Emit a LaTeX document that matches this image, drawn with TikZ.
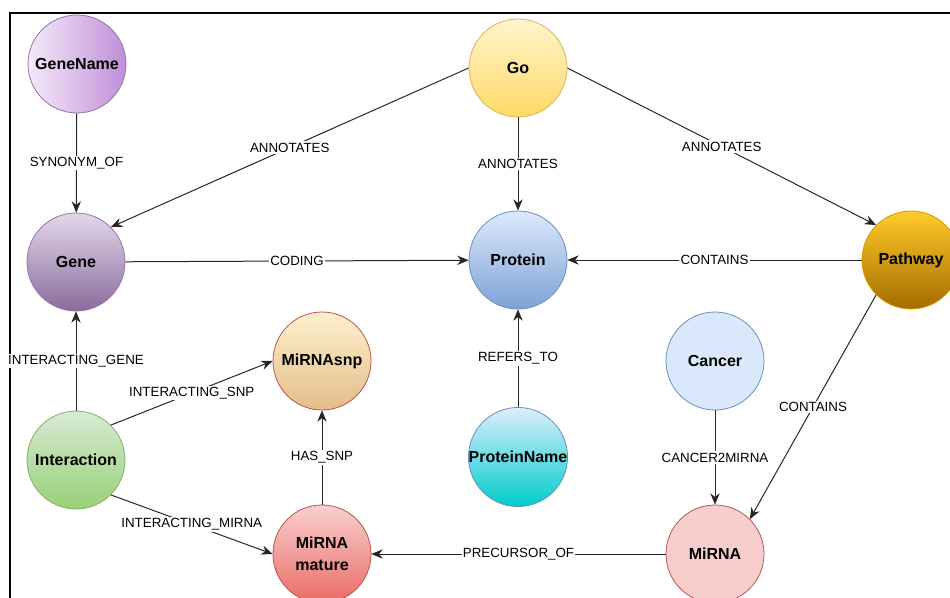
\documentclass[tikz,border=0pt]{standalone}
\usepackage{fontspec}
\setmainfont{Liberation Sans}
\usetikzlibrary{arrows.meta}

\definecolor{lineP}{HTML}{9673A6}
\definecolor{lineY}{HTML}{D6B656}
\definecolor{lineB}{HTML}{6C8EBF}
\definecolor{lineO}{HTML}{D79B00}
\definecolor{lineR}{HTML}{B85450}
\definecolor{lineG}{HTML}{82B366}
\definecolor{genenameL}{HTML}{F4EAF8}
\definecolor{genenameR}{HTML}{C08ED8}
\definecolor{goT}{HTML}{FFF4CC}
\definecolor{goB}{HTML}{FFD966}
\definecolor{geneT}{HTML}{E3D7EA}
\definecolor{geneB}{HTML}{8A6C9B}
\definecolor{proteinT}{HTML}{DCE9FC}
\definecolor{proteinB}{HTML}{7EA2D6}
\definecolor{pathwayT}{HTML}{FFCC2A}
\definecolor{pathwayB}{HTML}{A66B00}
\definecolor{snpT}{HTML}{FDF1CC}
\definecolor{snpB}{HTML}{E5BC8A}
\definecolor{cancerF}{HTML}{DAE8FC}
\definecolor{interT}{HTML}{D7EAD4}
\definecolor{interB}{HTML}{97D077}
\definecolor{pnameT}{HTML}{DCEEFC}
\definecolor{pnameB}{HTML}{00CCCC}
\definecolor{matureT}{HTML}{F8D0CE}
\definecolor{matureB}{HTML}{EA6B66}
\definecolor{mirnaF}{HTML}{F8CECC}

\begin{document}
\begin{tikzpicture}[
  x=0.75pt, y=-0.75pt,
  entity/.style={circle, draw, line width=0.6pt, minimum size=73.5pt, inner sep=0pt,
    align=center, font=\bfseries\fontsize{12}{16.5}\selectfont},
  rel/.style={-{Stealth[length=8.5pt,width=7pt]}, line width=0.75pt, draw=black!85},
  lbl/.style={fill=white, inner sep=1pt, font=\fontsize{10}{12}\selectfont}
]
\useasboundingbox (0,0) rectangle (950,597);
\draw[line width=1.5pt] (10,13) rectangle (975,625);

% entities
\node[entity, draw=lineP, left color=genenameL, right color=genenameR] (genename) at (77,64) {GeneName};
\node[entity, draw=lineY, top color=goT, bottom color=goB] (go) at (518,68) {Go};
\node[entity, draw=lineP, top color=geneT, bottom color=geneB] (gene) at (76,262) {Gene};
\node[entity, draw=lineB, top color=proteinT, bottom color=proteinB] (protein) at (518,260) {Protein};
\node[entity, draw=lineO, top color=pathwayT, bottom color=pathwayB] (pathway) at (911,260) {Pathway};
\node[entity, draw=lineR, top color=snpT, bottom color=snpB] (mirnasnp) at (322,361) {MiRNAsnp};
\node[entity, draw=lineB, fill=cancerF] (cancer) at (715,361) {Cancer};
\node[entity, draw=lineG, top color=interT, bottom color=interB] (interaction) at (76,460) {Interaction};
\node[entity, draw=lineB, top color=pnameT, bottom color=pnameB] (proteinname) at (518,457) {ProteinName};
\node[entity, draw=lineR, top color=matureT, bottom color=matureB] (mature) at (322,554) {MiRNA\\mature};
\node[entity, draw=lineR, fill=mirnaF] (mirna) at (715,554) {MiRNA};

% relationships
\draw[rel] (genename) -- node[lbl] {SYNONYM\_OF} (gene);
\draw[rel] (go.west) -- node[lbl] {ANNOTATES} (gene.north east);
\draw[rel] (go) -- node[lbl] {ANNOTATES} (protein);
\draw[rel] (go.east) -- node[lbl] {ANNOTATES} (pathway.north west);
\draw[rel] (gene) -- node[lbl] {CODING} (protein);
\draw[rel] (pathway) -- node[lbl] {CONTAINS} (protein);
\draw[rel] (interaction) -- node[lbl] {INTERACTING\_GENE} (gene);
\draw[rel] (interaction.north east) -- node[lbl] {INTERACTING\_SNP} (mirnasnp.west);
\draw[rel] (interaction.south east) -- node[lbl] {INTERACTING\_MIRNA} (mature.west);
\draw[rel] (mature) -- node[lbl] {HAS\_SNP} (mirnasnp);
\draw[rel] (proteinname) -- node[lbl] {REFERS\_TO} (protein);
\draw[rel] (cancer) -- node[lbl] {CANCER2MIRNA} (mirna);
\draw[rel] (pathway.south west) -- node[lbl] {CONTAINS} (mirna.north east);
\draw[rel] (mirna) -- node[lbl] {PRECURSOR\_OF} (mature);
\end{tikzpicture}
\end{document}
